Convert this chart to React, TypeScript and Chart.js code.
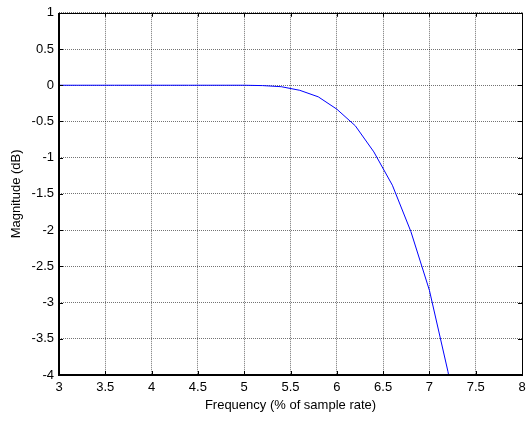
import React, { useEffect, useRef } from "react";
import { Chart, registerables } from "chart.js";

Chart.register(...registerables);

const freq = [3, 3.2, 3.4, 3.6, 3.8, 4, 4.2, 4.4, 4.6, 4.8, 5, 5.2, 5.4, 5.6, 5.8, 6, 6.2, 6.4, 6.6, 6.8, 7, 7.2, 7.4];
const magnitude = [0, 0, 0, 0, 0, 0, 0, 0, 0, 0, 0, -0.005, -0.02, -0.07, -0.16, -0.33, -0.56, -0.92, -1.38, -2.02, -2.83, -3.95, -5.3];
const xTickLabels = ["3", "3.5", "4", "4.5", "5", "5.5", "6", "6.5", "7", "7.5", "8"];
const yTickLabels = ["-4", "-3.5", "-3", "-2.5", "-2", "-1.5", "-1", "-0.5", "0", "0.5", "1"];

const boxPlugin = {
  id: "matlabBox",
  afterDraw(chart: any) {
    const { ctx, chartArea } = chart;
    const { left, right, top, bottom } = chartArea;
    const xs = chart.scales.x;
    const ys = chart.scales.y;
    ctx.save();
    ctx.strokeStyle = "#000";
    ctx.lineWidth = 1;
    ctx.beginPath();
    const L = 4;
    xs.ticks.forEach((t: any) => {
      const px = Math.round(xs.getPixelForValue(t.value)) + 0.5;
      ctx.moveTo(px, bottom);
      ctx.lineTo(px, bottom - L);
      ctx.moveTo(px, top);
      ctx.lineTo(px, top + L);
    });
    ys.ticks.forEach((t: any) => {
      const py = Math.round(ys.getPixelForValue(t.value)) + 0.5;
      ctx.moveTo(left, py);
      ctx.lineTo(left + L, py);
      ctx.moveTo(right, py);
      ctx.lineTo(right - L, py);
    });
    ctx.stroke();
    ctx.lineWidth = 1;
    ctx.strokeRect(Math.round(left) + 0.5, Math.round(top) + 0.5, Math.round(right - left), Math.round(bottom - top));
    ctx.lineWidth = 2;
    ctx.beginPath();
    ctx.moveTo(Math.round(left), Math.round(top));
    ctx.lineTo(Math.round(left), Math.round(bottom));
    ctx.lineTo(Math.round(right), Math.round(bottom));
    ctx.stroke();
    ctx.restore();
  },
};

export default function App() {
  const ref = useRef<HTMLCanvasElement | null>(null);
  useEffect(() => {
    document.body.style.margin = "0";
    const font = { family: "'Liberation Sans', Arial, sans-serif", size: 13 };
    const chart = new Chart(ref.current as HTMLCanvasElement, {
      type: "line",
      data: {
        datasets: [
          {
            data: freq.map((f, i) => ({ x: f, y: magnitude[i] })),
            borderColor: "#0000ff",
            borderWidth: 1,
            pointRadius: 0,
            tension: 0,
            fill: false,
          },
        ],
      },
      options: {
        animation: false,
        responsive: false,
        maintainAspectRatio: false,
        layout: { padding: { top: 10, right: 10, left: 0, bottom: 0 } },
        plugins: { legend: { display: false }, tooltip: { enabled: false } },
        scales: {
          x: {
            type: "linear",
            min: 3,
            max: 8,
            ticks: {
              stepSize: 0.5,
              color: "#000",
              font,
              padding: 5,
              maxRotation: 0,
              autoSkip: false,
              callback: (v: any) => {
                const i = Math.round((Number(v) - 3) / 0.5);
                return xTickLabels[i] ?? "";
              },
            },
            grid: { color: "rgba(0,0,0,0.55)", drawTicks: false, lineWidth: 1 },
            border: { display: false, dash: [1, 1] },
            title: { display: true, text: "Frequency (% of sample rate)", color: "#000", font, padding: { top: 0, bottom: 10 } },
            afterFit: (s: any) => {
              s.height = 48;
            },
          },
          y: {
            type: "linear",
            min: -4,
            max: 1,
            ticks: {
              stepSize: 0.5,
              color: "#000",
              font,
              padding: 5,
              autoSkip: false,
              callback: (v: any) => {
                const i = Math.round((Number(v) + 4) / 0.5);
                return yTickLabels[i] ?? "";
              },
            },
            grid: { color: "rgba(0,0,0,0.55)", drawTicks: false, lineWidth: 1 },
            border: { display: false, dash: [1, 1] },
            title: { display: true, text: "Magnitude (dB)", color: "#000", font, padding: { top: 9, bottom: 0 } },
            afterFit: (s: any) => {
              s.width = 59;
            },
          },
        },
      },
      plugins: [boxPlugin],
    });
    return () => chart.destroy();
  }, []);
  return (
    <div style={{ width: 532, height: 423, background: "#fff" }}>
      <canvas ref={ref} width={532} height={423} style={{ display: "block" }} />
    </div>
  );
}
